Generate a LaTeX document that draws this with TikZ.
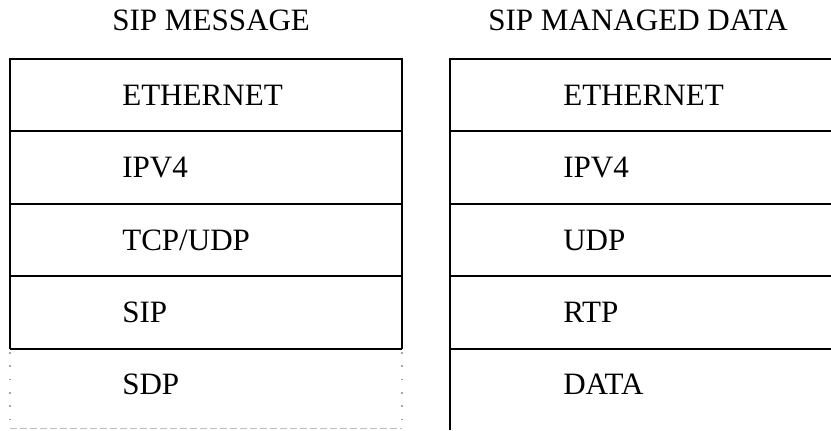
\documentclass[tikz,border=0pt]{standalone}
\usepackage{fontspec}
\setmainfont{Liberation Serif}
\begin{document}
\begin{tikzpicture}[x=0.75pt,y=-0.75pt,
  rule/.style={line width=1.5pt,black},
  dotrule/.style={line width=1.2pt,gray!70,dash pattern=on 1.2pt off 8.8pt},
  dashrule/.style={line width=1pt,gray!50,dash pattern=on 5pt off 2.5pt},
  cell/.style={anchor=base west,inner sep=0pt,font=\fontsize{23.3pt}{26pt}\selectfont},
  title/.style={anchor=base west,inner sep=0pt,font=\fontsize{23.3pt}{26pt}\selectfont}]
\useasboundingbox (0,0) rectangle (831,430);
% titles
\node[title] (t1) at (112,30) {SIP MESSAGE};
\node[title] (t2) at (488,30) {SIP MANAGED DATA};
% left table
\draw[rule] (10,349) -- (10,59) -- (402,59) -- (402,349);
\foreach \y in {131,204,276,349} \draw[rule] (10,\y) -- (402,\y);
\draw[dotrule] (10,352) -- (10,428);
\draw[dotrule] (402,352) -- (402,428);
\draw[dashrule] (10,428.5) -- (402,428.5);
% right table
\draw[rule] (831,59) -- (450,59) -- (450,430);
\foreach \y in {131,204,276,349} \draw[rule] (450,\y) -- (831,\y);
% left cells
\node[cell] (l1) at (122,105) {ETHERNET};
\node[cell] (l2) at (122,177) {IPV4};
\node[cell] (l3) at (122,250) {TCP/UDP};
\node[cell] (l4) at (122,322) {SIP};
\node[cell] (l5) at (122,394) {SDP};
% right cells
\node[cell] (r1) at (563,105) {ETHERNET};
\node[cell] (r2) at (563,177) {IPV4};
\node[cell] (r3) at (563,250) {UDP};
\node[cell] (r4) at (563,322) {RTP};
\node[cell] (r5) at (563,394) {DATA};
\end{tikzpicture}
\end{document}
